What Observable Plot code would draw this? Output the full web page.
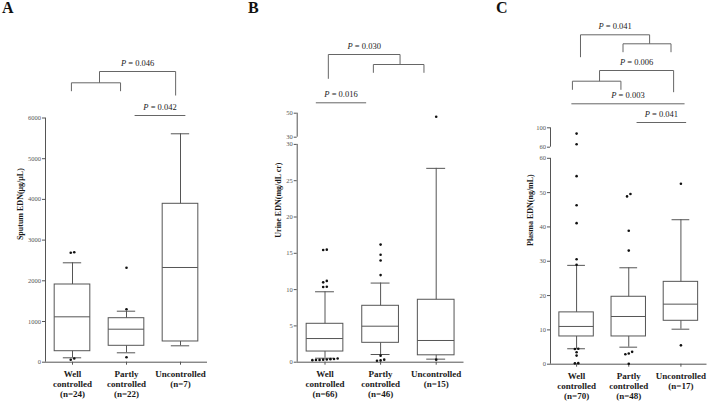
<!DOCTYPE html>
<html><head><meta charset="utf-8">
<script src="https://cdn.jsdelivr.net/npm/d3@7"></script>
<script src="https://cdn.jsdelivr.net/npm/@observablehq/plot@0.6"></script>
<style>
body{margin:0;background:#fff;}
#chart{position:relative;width:709px;height:401px;overflow:hidden;background:#fff;font-family:"Liberation Serif",serif;}
#chart svg{position:absolute;left:0;top:0;}
.letter{position:absolute;top:0;font:bold 16px/16px "Liberation Serif",serif;color:#111;}
</style></head>
<body><div id="chart"></div>
<script>
// ---------------- DATA ----------------
const groups = ["Well controlled", "Partly controlled", "Uncontrolled"];
const groupLines = ["Well\ncontrolled", "Partly\ncontrolled", "Uncontrolled"];

// Panel A: sputum EDN (µg/µL)
const sputumN = [24, 22, 7];
const sputumLow = [108, 231, 403];
const sputumQ1 = [270, 403, 509];
const sputumMedian = [1115, 811, 2327];
const sputumQ3 = [1909, 1081, 3892];
const sputumHigh = [2442, 1253, 5612];
const sputumOutliers = [[2703, 2688, 91, 59], [2319, 1302, 123], []];
const sputumP = ["0.046", "0.042"];
const sputumTicks = [0, 1000, 2000, 3000, 4000, 5000, 6000];

// Panel B: urine EDN (mg/dL cr)
const urineN = [66, 46, 15];
const urineLow = [0.55, 1.06, 0.42];
const urineQ1 = [1.47, 2.67, 0.95];
const urineMedian = [3.26, 4.96, 2.99];
const urineQ3 = [5.29, 7.77, 8.6];
const urineHigh = [9.7, 10.9, 26.7];
const urineOutliers = [
  [15.5, 15.45, 11.2, 11.0, 10.4, 10.35, 0.5, 0.45, 0.42, 0.38, 0.35, 0.32, 0.3, 0.28],
  [16.2, 14.8, 14.0, 12.0, 0.9, 0.35, 0.25, 0.2],
  [47, 0.35]
];
const urineP = ["0.030", "0.016"];
const urineTicksLower = [0, 5, 10, 15, 20, 25, 30];
const urineTicksUpper = [30, 50];

// Panel C: plasma EDN (ng/mL)
const plasmaN = [70, 48, 17];
const plasmaLow = [4.5, 4.96, 10.2];
const plasmaQ1 = [8.08, 8.08, 12.65];
const plasmaMedian = [11.0, 13.9, 17.5];
const plasmaQ3 = [15.1, 19.65, 24.0];
const plasmaHigh = [28.8, 28.1, 42.1];
const plasmaOutliers = [
  [88, 66, 54.8, 46.3, 41.1, 30.6, 29.0, 4.5, 4.45, 3.5, 2.5, 0.3, 0.25],
  [49.6, 48.9, 38.9, 33.1, 3.6, 3.1, 2.9, 0.15],
  [52.6, 5.5]
];
const plasmaP = ["0.041", "0.006", "0.003", "0.041"];
const plasmaTicksLower = [0, 10, 20, 30, 40, 50, 60];
const plasmaTicksUpper = [60, 100];

// ---------------- LAYOUT ----------------
const W = 709, H = 401;
const FONT = "Liberation Serif";
const LINE = "#555";
const INK = "#1a1a1a";

const panels = [
  {
    letter: "A", letterLeft: 2, x0: 45, x1: 207,
    title: "Sputum EDN(\u03bcg/\u03bcL)", titleDx: -25,
    n: sputumN, low: sputumLow, q1: sputumQ1, med: sputumMedian, q3: sputumQ3, high: sputumHigh,
    outliers: sputumOutliers, p: sputumP,
    lower: {domain: [0, 6000], top: 117.5, bottom: 361.7, ticks: sputumTicks},
    upper: null,
    brackets: [
      {x1: -0.02, x2: 0.89, top: 8.23, endL: 9.07, endR: 9.07},
      {x1: 0.5, x2: 1.91, top: 7.1, endL: 8.23, endR: 9.5, p: 0},
      {x1: 1.15, x2: 2.09, top: 11.5, p: 1}
    ]
  },
  {
    letter: "B", letterLeft: 248, x0: 296.7, x1: 463.5,
    title: "Urine EDN(mg/dL cr)", titleDx: -19,
    n: urineN, low: urineLow, q1: urineQ1, med: urineMedian, q3: urineQ3, high: urineHigh,
    outliers: urineOutliers, p: urineP,
    lower: {domain: [0, 30], top: 143.9, bottom: 361.7, ticks: urineTicksLower},
    upper: {domain: [30, 50], top: 112.7, bottom: 136.7, ticks: urineTicksUpper},
    brackets: [
      {x1: 0.06, x2: 1.35, top: 5.4, endL: 7.83, endR: 6.4, p: 0},
      {x1: 0.87, x2: 1.78, top: 6.4, endL: 7.23, endR: 7.23},
      {x1: -0.165, x2: 0.74, top: 10.23, p: 1}
    ]
  },
  {
    letter: "C", letterLeft: 496, x0: 550, x1: 706.5,
    title: "Plasma EDN(ng/mL)", titleDx: -20,
    n: plasmaN, low: plasmaLow, q1: plasmaQ1, med: plasmaMedian, q3: plasmaQ3, high: plasmaHigh,
    outliers: plasmaOutliers, p: plasmaP,
    lower: {domain: [0, 60], top: 157.8, bottom: 363.7, ticks: plasmaTicksLower},
    upper: {domain: [60, 100], top: 127.3, bottom: 146.7, ticks: plasmaTicksUpper},
    brackets: [
      {x1: 0.075, x2: 1.40, top: 3.43, endL: 5.67, endR: 4.33, p: 0},
      {x1: 0.89, x2: 1.81, top: 4.33, endL: 5.17, endR: 5.17},
      {x1: 0.44, x2: 1.86, top: 7.0, endL: 8.07, endR: 9.17, p: 1},
      {x1: -0.08, x2: 0.85, top: 8.07, endL: 8.93, endR: 8.93},
      {x1: -0.10, x2: 2.07, top: 10.33, p: 2},
      {x1: 1.15, x2: 2.1, top: 12.2, p: 3}
    ]
  }
];

const chart = document.getElementById("chart");
const HALF = 0.33, CAP = 0.17, SPREAD = 0.065;

// spread near-identical outliers sideways (computed, per group)
function spreadPoints(cfg) {
  const pts = [];
  cfg.outliers.forEach((vals, i) => {
    const sorted = [...vals].sort((a, b) => a - b);
    const clusters = [];
    for (const v of sorted) {
      const seg = (cfg.upper && v > cfg.lower.domain[1]) ? cfg.upper : cfg.lower;
      const thr = 0.012 * (seg.domain[1] - seg.domain[0]);
      const last = clusters[clusters.length - 1];
      if (last && v - last[last.length - 1] < thr) last.push(v); else clusters.push([v]);
    }
    for (const c of clusters) c.forEach((v, k) => pts.push({x: i + (k - (c.length - 1) / 2) * SPREAD, v}));
  });
  return pts;
}

function basePlot(cfg, seg, marks, extra = {}) {
  return Plot.plot({
    width: W, height: H,
    marginLeft: cfg.x0, marginRight: W - cfg.x1,
    marginTop: seg.top, marginBottom: H - seg.bottom,
    x: {domain: [-0.5, 2.5], ...(extra.x || {})},
    y: {domain: seg.domain, ...(extra.y || {})},
    style: {background: "transparent", fontFamily: FONT, color: LINE, overflow: "visible"},
    marks
  });
}

for (const cfg of panels) {
  const stats = groups.map((g, i) => ({i, low: cfg.low[i], q1: cfg.q1[i], med: cfg.med[i], q3: cfg.q3[i], high: cfg.high[i], n: cfg.n[i]}));
  const pts = spreadPoints(cfg);
  const lo = cfg.lower;
  const lowerPts = pts.filter(d => d.v <= lo.domain[1]);
  const upperPts = pts.filter(d => d.v > lo.domain[1]);
  const axisTop = cfg.upper ? cfg.upper.top : lo.top;
  const titleDy = (axisTop + lo.bottom) / 2 - (lo.top + lo.bottom) / 2;

  // main (lower) segment
  chart.appendChild(basePlot(cfg, lo, [
    Plot.ruleX([-0.5], {stroke: LINE}),
    Plot.ruleY([lo.domain[0]], {stroke: LINE}),
    Plot.axisY({ticks: lo.ticks, tickSize: 3, tickPadding: 1.5, fontSize: 6.5, label: null, tickFormat: d => String(d)}),
    Plot.axisX({ticks: [0, 1, 2], tickSize: 3, tickFormat: () => "", label: null}),
    Plot.ruleX(stats, {x: "i", y1: "low", y2: "high", stroke: LINE}),
    Plot.ruleY(stats, {y: "high", x1: d => d.i - CAP, x2: d => d.i + CAP, stroke: LINE}),
    Plot.ruleY(stats, {y: "low", x1: d => d.i - CAP, x2: d => d.i + CAP, stroke: LINE}),
    Plot.rect(stats, {x1: d => d.i - HALF, x2: d => d.i + HALF, y1: "q1", y2: "q3", fill: "white", stroke: LINE}),
    Plot.ruleY(stats, {y: "med", x1: d => d.i - HALF, x2: d => d.i + HALF, stroke: LINE}),
    Plot.dot(lowerPts, {x: "x", y: "v", r: 1.3, fill: "#111", stroke: null}),
    Plot.text(stats, {x: "i", y: () => lo.domain[0], text: d => groupLines[d.i] + "\n(n=" + d.n + ")",
      lineAnchor: "top", dy: 7, fontSize: 9, fontWeight: "bold", lineHeight: 1.15, fill: INK}),
    Plot.text([cfg.title], {frameAnchor: "left", rotate: -90, dx: cfg.titleDx, dy: titleDy,
      fontSize: 8, fontWeight: "bold", fill: INK})
  ]));

  // upper segment of broken axis
  if (cfg.upper) {
    const up = cfg.upper;
    chart.appendChild(basePlot(cfg, up, [
      Plot.ruleX([-0.5], {stroke: LINE}),
      Plot.axisY({ticks: up.ticks, tickSize: 3, tickPadding: 1.5, fontSize: 6.5, label: null, tickFormat: d => String(d)}),
      Plot.dot(upperPts, {x: "x", y: "v", r: 1.3, fill: "#111", stroke: null})
    ], {x: {axis: null}}));
  }

  // significance brackets (y in bracket rows)
  const segs = [];
  for (const b of cfg.brackets) {
    segs.push({x1: b.x1, y1: b.top, x2: b.x2, y2: b.top});
    if (b.endL !== undefined) segs.push({x1: b.x1, y1: b.top, x2: b.x1, y2: b.endL});
    if (b.endR !== undefined) segs.push({x1: b.x2, y1: b.top, x2: b.x2, y2: b.endR});
  }
  const labels = cfg.brackets.filter(b => b.p !== undefined)
    .map(b => ({x: (b.x1 + b.x2) / 2, y: b.top - 0.85, p: cfg.p[b.p]}));
  const fs = 8.5;
  chart.appendChild(Plot.plot({
    width: W, height: H,
    marginLeft: cfg.x0, marginRight: W - cfg.x1, marginTop: 0, marginBottom: 0,
    x: {domain: [-0.5, 2.5], axis: null},
    y: {domain: [0, H / 10], reverse: true, axis: null},
    style: {background: "transparent", fontFamily: FONT, color: LINE, overflow: "visible"},
    marks: [
      Plot.link(segs, {x1: "x1", y1: "y1", x2: "x2", y2: "y2", stroke: "#666"}),
      Plot.text(labels, {x: "x", y: "y", text: () => "P", fontStyle: "italic", textAnchor: "end",
        dx: -1.35 * fs, fontSize: fs, fill: INK}),
      Plot.text(labels, {x: "x", y: "y", text: d => " = " + d.p, textAnchor: "start",
        dx: -1.35 * fs, fontSize: fs, fill: INK})
    ]
  }));

  const L = document.createElement("div");
  L.className = "letter";
  L.style.left = cfg.letterLeft + "px";
  L.textContent = cfg.letter;
  chart.appendChild(L);
}
</script>
</body></html>
